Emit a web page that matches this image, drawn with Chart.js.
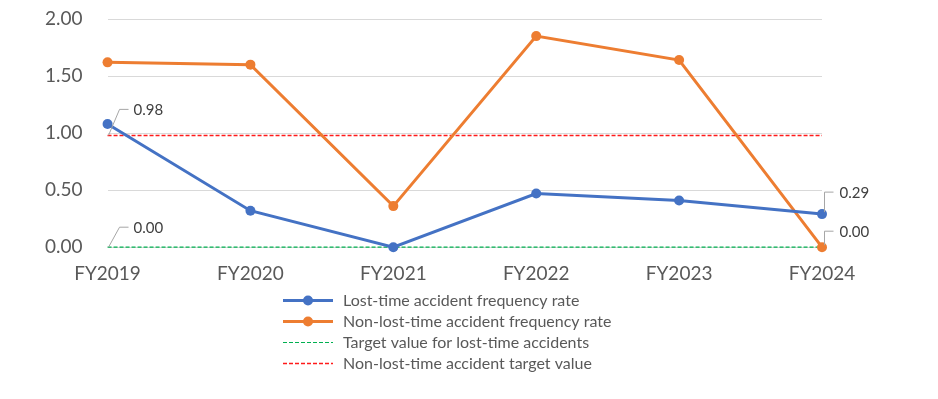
<!DOCTYPE html>
<html><head><meta charset="utf-8">
<script src="https://cdn.jsdelivr.net/npm/chart.js@4/dist/chart.umd.min.js"></script>
<style>html,body{margin:0;padding:0;background:#fff}</style>
</head><body>
<canvas id="c" width="938" height="399" style="display:block;width:938px;height:399px"></canvas>
<script>
const categories = ['FY2019','FY2020','FY2021','FY2022','FY2023','FY2024'];
const lostTimeRate = [1.08, 0.32, 0.00, 0.47, 0.41, 0.29];
const nonLostTimeRate = [1.62, 1.60, 0.36, 1.85, 1.64, 0.00];
const lostTimeTarget = [0.00, 0.00, 0.00, 0.00, 0.00, 0.00];
const nonLostTimeTarget = [0.98, 0.98, 0.98, 0.98, 0.98, 0.98];
const yTickValues = [0, 0.5, 1.0, 1.5, 2.0];
const seriesNames = [
  'Lost-time accident frequency rate',
  'Non-lost-time accident frequency rate',
  'Target value for lost-time accidents',
  'Non-lost-time accident target value'
];

const FONT = 'Lato, "Open Sans", sans-serif';
const TEXT = '#595959';

// which values get a data label: dataset index, point index, side
const labelSpecs = [
  {ds: 3, i: 0, side: 'left', rise: 26},
  {ds: 2, i: 0, side: 'left', rise: 20},
  {ds: 0, i: 5, side: 'right', rise: 22},
  {ds: 1, i: 5, side: 'right', rise: 16}
];

const dataLabelPlugin = {
  id: 'dataLabelPlugin',
  afterDatasetsDraw(chart) {
    const ctx = chart.ctx;
    ctx.save();
    ctx.font = '15px ' + FONT;
    ctx.textBaseline = 'middle';
    ctx.textAlign = 'left';
    labelSpecs.forEach(s => {
      const el = chart.getDatasetMeta(s.ds).data[s.i];
      const val = chart.data.datasets[s.ds].data[s.i];
      ctx.strokeStyle = '#A6A6A6';
      ctx.lineWidth = 1;
      ctx.beginPath();
      let tx, ty;
      if (s.side === 'left') {
        const x0 = el.x + 1, y0 = el.y;
        ty = y0 - s.rise;
        ctx.moveTo(x0, y0);
        ctx.lineTo(x0 + 11, ty);
        ctx.lineTo(x0 + 20, ty);
        tx = x0 + 25;
      } else {
        const x0 = el.x + 2.5, y0 = el.y - 2;
        ty = el.y - s.rise;
        ctx.moveTo(x0, y0);
        ctx.lineTo(x0, ty);
        ctx.lineTo(x0 + 9, ty);
        tx = x0 + 15;
      }
      ctx.stroke();
      ctx.fillStyle = '#404040';
      ctx.fillText(Number(val).toFixed(2), tx, ty + 1);
    });
    ctx.restore();
  }
};

const legendPlugin = {
  id: 'stackedLegend',
  afterDraw(chart) {
    const ctx = chart.ctx;
    const left = 283, textX = 343, top = 300, step = 21;
    ctx.save();
    ctx.font = '16px ' + FONT;
    ctx.textBaseline = 'middle';
    ctx.textAlign = 'left';
    chart.data.datasets.forEach((d, k) => {
      const y = top + k * step;
      ctx.strokeStyle = d.borderColor;
      ctx.lineWidth = d.borderWidth;
      ctx.setLineDash(d.borderDash || []);
      ctx.beginPath();
      ctx.moveTo(left, y + 0.5);
      ctx.lineTo(left + 50, y + 0.5);
      ctx.stroke();
      ctx.setLineDash([]);
      if (d.pointRadius > 0) {
        ctx.fillStyle = d.borderColor;
        ctx.beginPath();
        ctx.arc(left + 25, y + 0.5, d.pointRadius, 0, Math.PI * 2);
        ctx.fill();
      }
      ctx.fillStyle = TEXT;
      ctx.fillText(d.label, textX, y + 1);
    });
    ctx.restore();
  }
};

new Chart(document.getElementById('c'), {
  type: 'line',
  data: {
    labels: categories,
    datasets: [
      {label: seriesNames[0], data: lostTimeRate, borderColor: '#4472C4', backgroundColor: '#4472C4',
       borderWidth: 3, pointRadius: 5, pointHoverRadius: 5, pointBorderWidth: 0, tension: 0, clip: false},
      {label: seriesNames[1], data: nonLostTimeRate, borderColor: '#ED7D31', backgroundColor: '#ED7D31',
       borderWidth: 3, pointRadius: 5, pointHoverRadius: 5, pointBorderWidth: 0, tension: 0, clip: false},
      {label: seriesNames[2], data: lostTimeTarget, borderColor: '#00B050', backgroundColor: '#00B050',
       borderWidth: 1.2, borderDash: [4, 2], pointRadius: 0, pointHoverRadius: 0, tension: 0, clip: false},
      {label: seriesNames[3], data: nonLostTimeTarget, borderColor: '#FF1A1A', backgroundColor: '#FF1A1A',
       borderWidth: 1.5, borderDash: [4, 2], pointRadius: 0, pointHoverRadius: 0, tension: 0, clip: false}
    ]
  },
  options: {
    responsive: false,
    devicePixelRatio: 1,
    animation: false,
    layout: {padding: {left: 20, right: 116, top: 19, bottom: 99}},
    plugins: {legend: {display: false}, tooltip: {enabled: false}},
    scales: {
      x: {
        offset: false,
        grid: {display: false, drawTicks: false},
        border: {display: false},
        ticks: {color: TEXT, font: {family: FONT, size: 19}, padding: 15, maxRotation: 0, autoSkip: false}
      },
      y: {
        min: 0, max: 2,
        afterBuildTicks(axis) { axis.ticks = yTickValues.map(v => ({value: v})); },
        afterFit(axis) { axis.paddingTop = 0; axis.paddingBottom = 0; },
        grid: {color: '#D9D9D9', lineWidth: 1, drawTicks: false},
        border: {display: false},
        ticks: {color: TEXT, font: {family: FONT, size: 19}, padding: 25,
                callback: v => Number(v).toFixed(2)}
      }
    }
  },
  plugins: [dataLabelPlugin, legendPlugin]
});
</script>
</body></html>
